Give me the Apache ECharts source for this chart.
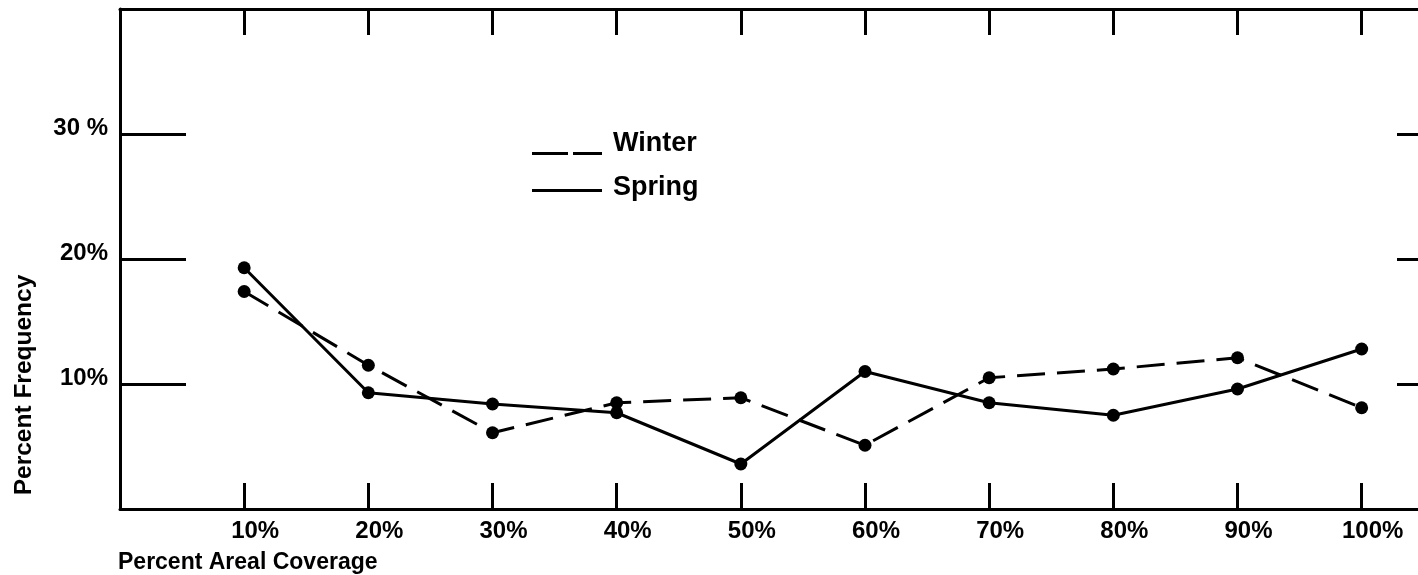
<!DOCTYPE html>
<html>
<head>
<meta charset="utf-8">
<script src="https://cdn.jsdelivr.net/npm/echarts@6/dist/echarts.min.js"></script>
<style>
html,body{margin:0;padding:0;background:#fff;}
#chart{width:1418px;height:575px;}
</style>
</head>
<body>
<div id="chart"></div>
<script>
const categories = [10, 20, 30, 40, 50, 60, 70, 80, 90, 100];
const winter = [17.4, 11.5, 6.1, 8.5, 8.9, 5.1, 10.5, 11.2, 12.1, 8.1];
const spring = [19.3, 9.3, 8.4, 7.7, 3.6, 11.0, 8.5, 7.5, 9.6, 12.8];
const xTickLabels = ['10%', '20%', '30%', '40%', '50%', '60%', '70%', '80%', '90%', '100%'];
const yTickValues = [10, 20, 30];
const yTickLabels = ['10%', '20%', '30 %'];
const seriesNames = ['Winter', 'Spring'];

const FONT = '"Liberation Sans", Arial, sans-serif';
const chart = echarts.init(document.getElementById('chart'), null, {renderer: 'canvas'});

const xFmt = v => { const i = categories.indexOf(v); return i >= 0 ? xTickLabels[i] : ''; };
const yFmt = v => { const i = yTickValues.indexOf(v); return i >= 0 ? yTickLabels[i] : ''; };
const speck = 'M0,0h0.01v0.01h-0.01Z M69.99,29.99h0.01v0.01h-0.01Z ';

const axisLine = {show: true, onZero: false, lineStyle: {color: '#000', width: 3}};

chart.setOption({
  backgroundColor: '#fff',
  animation: false,
  grid: {left: 120, right: -43, top: 9, bottom: 66, containLabel: false, outerBoundsMode: 'none'},
  legend: {
    orient: 'vertical',
    left: 532,
    top: 129,
    padding: 0,
    itemWidth: 70,
    itemHeight: 30,
    itemGap: 14,
    selectedMode: false,
    itemStyle: {borderWidth: 0},
    textStyle: {fontFamily: FONT, fontSize: 27, fontWeight: 'bold', color: '#000', lineHeight: 30, padding: [0, 0, 0, 6]},
    data: [
      {name: seriesNames[0], icon: 'path://' + speck + 'M0,23h36v3h-36Z M41,23h29v3h-29Z'},
      {name: seriesNames[1], icon: 'path://' + speck + 'M0,16h70v3h-70Z'}
    ]
  },
  xAxis: [
    {
      type: 'value', position: 'bottom', min: 0, max: 108, interval: 10,
      axisLine: axisLine,
      axisTick: {show: true, inside: true, length: 26, lineStyle: {color: '#000', width: 3}},
      splitLine: {show: false},
      axisLabel: {formatter: xFmt, color: '#000', fontFamily: FONT, fontSize: 24, fontWeight: 'bold', margin: 10, padding: [0, 0, 0, 22]},
      name: 'Percent Areal Coverage',
      nameLocation: 'start',
      nameGap: 2,
      nameTextStyle: {fontFamily: FONT, fontSize: 23, fontWeight: 'bold', color: '#000', align: 'left', verticalAlign: 'top', padding: [42, 0, 0, 0]}
    },
    {
      type: 'value', position: 'top', min: 0, max: 108, interval: 10,
      axisLine: axisLine,
      axisTick: {show: true, inside: true, length: 26, lineStyle: {color: '#000', width: 3}},
      splitLine: {show: false},
      axisLabel: {show: false}
    }
  ],
  yAxis: [
    {
      type: 'value', position: 'left', min: 0, max: 40, interval: 10,
      axisLine: axisLine,
      axisTick: {show: true, inside: true, length: 66, lineStyle: {color: '#000', width: 3}},
      splitLine: {show: false},
      axisLabel: {formatter: yFmt, color: '#000', fontFamily: FONT, fontSize: 24, fontWeight: 'bold', margin: 12, verticalAlign: 'bottom', lineHeight: 12},
      name: 'Percent Frequency',
      nameLocation: 'middle',
      nameRotate: 90,
      nameGap: 83,
      nameTextStyle: {fontFamily: FONT, fontSize: 24.5, fontWeight: 'bold', color: '#000', padding: [0, 252, 0, 0]}
    },
    {
      type: 'value', position: 'right', min: 0, max: 40, interval: 10,
      axisLine: axisLine,
      axisTick: {show: true, inside: true, length: 64, lineStyle: {color: '#000', width: 3}},
      splitLine: {show: false},
      axisLabel: {show: false}
    }
  ],
  series: [
    {
      name: seriesNames[0], type: 'line', xAxisIndex: 0, yAxisIndex: 0,
      data: categories.map((c, i) => [c, winter[i]]),
      symbol: 'circle', symbolSize: 13, showSymbol: true,
      itemStyle: {color: '#000'},
      lineStyle: {color: '#000', width: 3, type: [28, 12]},
      emphasis: {disabled: true}, silent: true
    },
    {
      name: seriesNames[1], type: 'line', xAxisIndex: 0, yAxisIndex: 0,
      data: categories.map((c, i) => [c, spring[i]]),
      symbol: 'circle', symbolSize: 13, showSymbol: true,
      itemStyle: {color: '#000'},
      lineStyle: {color: '#000', width: 3, type: 'solid'},
      emphasis: {disabled: true}, silent: true
    }
  ]
});
</script>
</body>
</html>
